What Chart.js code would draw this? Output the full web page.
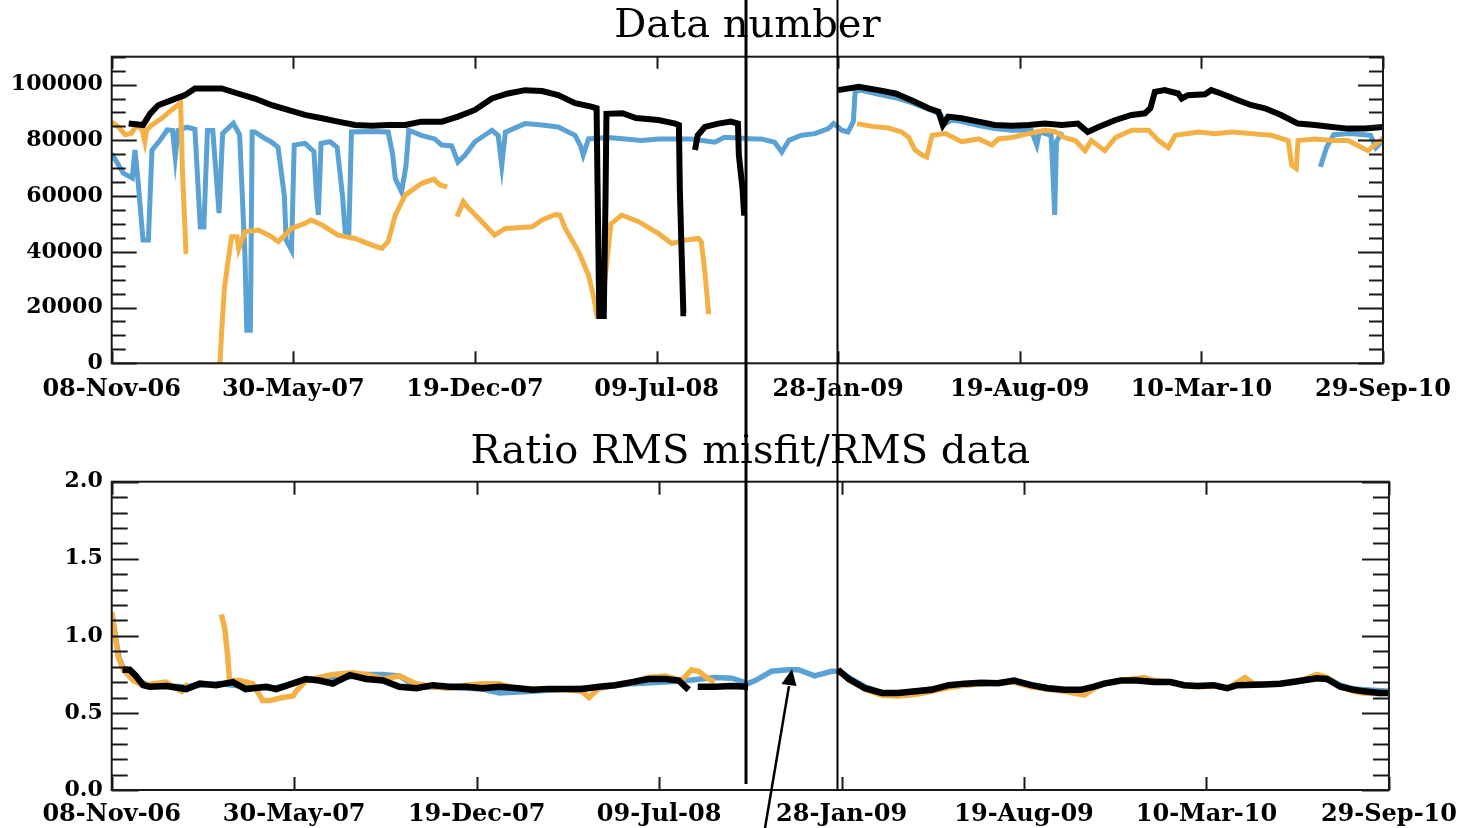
<!DOCTYPE html>
<html>
<head>
<meta charset="utf-8">
<title>Data number / Ratio RMS misfit</title>
<style>
body{margin:0;background:#fff;}
#wrap{position:relative;width:1467px;height:828px;overflow:hidden;}
canvas{position:absolute;left:0;}
#top{top:0;}
#bot{top:420px;}
svg{position:absolute;left:0;top:0;pointer-events:none;}
</style>
</head>
<body>
<div id="wrap">
<canvas id="top" width="1467" height="420"></canvas>
<canvas id="bot" width="1467" height="408"></canvas>
<svg width="1467" height="828">
  <line x1="746" y1="0" x2="746" y2="784" stroke="#000" stroke-width="3"/>
  <line x1="837.5" y1="0" x2="837.5" y2="791" stroke="#000" stroke-width="2"/>
  <line x1="765" y1="828" x2="789" y2="686" stroke="#000" stroke-width="2.5"/>
  <polygon points="792,669 781.5,684 796.5,686" fill="#000"/>
</svg>
</div>
<script src="https://cdn.jsdelivr.net/npm/chart.js"></script>
<script>
// x axis: days since 08-Nov-06, one tick every 203 days
const dateLabels = ['08-Nov-06','30-May-07','19-Dec-07','09-Jul-08','28-Jan-09','19-Aug-09','10-Mar-10','29-Sep-10'];

// ---- top panel: data number (null = gap)
const blueTopDays = [0,13,23,26,29,35,41,45,54,62,68,71,74,84,93,99,103,107,113,120,124,136,143,149,151,155,157,160,171,178,186,193,195,201,204,216,226,229,231,234,244,252,258,261,265,268,291,309,314,317,324,329,332,346,361,369,380,387,395,406,425,432,436,440,462,481,499,518,524,527,533,555,574,592,611,648,674,685,719,726,741,749,757,771,786,801,807,816,823,829,831,837,857,876,894,913,926,932,939,950,969,987,1006,1028,1034,1037,1050,1052,1054,1056,1062,1200,1351,1358,1366,1384,1407,1413,1418,1421];
const blueTopVals = [75300,68200,66500,76500,67000,44200,44200,76500,80000,83700,83500,74000,83500,84700,84000,48900,48900,83500,83500,53900,82500,86100,82000,38100,11900,11900,83000,83000,80700,79500,77500,60000,44200,40600,78300,78900,76000,60000,53200,78900,79500,77500,60000,47200,46000,83000,83200,83000,75000,66300,61500,71000,83600,81800,80500,78300,78000,72200,74700,79500,83600,81700,71000,82900,86000,85500,84800,81800,78000,74700,80500,81000,80500,79900,80500,80500,79300,81100,80500,80500,79300,75800,80000,81800,82400,84200,86000,83600,83000,86700,97400,98000,96500,95300,93500,91200,89500,86000,87300,86700,85300,84200,83600,83600,78300,83000,81800,68800,53200,79500,83000,null,70500,77500,82000,82400,81800,77400,79000,80000];

const orangeTopDays = [0,7,15,22,28,34,37,39,45,56,67,72,77,79,81,83,85,100,121,123,126,130,134,140,142,149,164,179,186,201,216,223,235,253,272,291,302,309,317,328,346,360,367,375,380,386,393,399,410,428,440,470,481,496,501,507,522,533,539,542,548,553,558,570,589,611,626,641,656,659,663,667,670,750,833,850,868,883,891,898,906,911,917,932,950,969,984,991,1006,1025,1043,1054,1065,1077,1088,1095,1110,1122,1140,1159,1170,1181,1189,1215,1233,1252,1274,1296,1315,1319,1324,1326,1345,1364,1382,1404,1418,1421];
const orangeTopVals = [86500,85000,82000,82500,85500,83700,79500,83700,85500,87900,90900,92100,93300,70000,55000,40000,40000,null,0,12000,27000,36500,45400,45400,41000,47200,47800,45400,43600,48400,50200,51400,49600,46000,44800,42400,41200,43600,53200,60300,64500,66100,64000,63300,null,52600,58000,55600,52000,46000,48400,49000,51400,53400,53200,48400,40000,31600,23300,17900,20000,35000,50000,53200,50800,46600,43000,44200,44800,43600,32800,18500,18500,null,86000,85000,84400,83000,81000,76500,74700,74000,81800,82400,79500,80500,78300,80500,81000,82400,83600,83200,81000,79900,76300,79900,76300,81000,83600,83600,79900,77400,81800,83000,82400,83000,82400,81800,79900,71000,69900,79900,80500,79900,79900,76300,79900,81000];

const blackTopDays = [19,35,43,52,67,82,93,123,141,160,179,197,216,235,253,272,291,309,328,346,369,387,406,425,443,462,481,499,518,536,542,543,545,550,552,553,571,586,611,630,634,635,637,639,642,647,652,655,663,678,692,700,701,705,707,760,812,835,857,876,894,913,924,929,935,950,969,987,1006,1025,1043,1062,1080,1091,1103,1122,1140,1155,1161,1166,1177,1192,1196,1203,1222,1229,1240,1259,1274,1289,1307,1326,1345,1364,1382,1401,1421];
const blackTopVals = [86000,85500,89600,92600,94400,96200,98600,98600,96800,95000,92600,90900,89100,87900,86700,85500,85200,85500,85500,86700,86700,88500,90900,95000,96800,98000,97700,96200,93300,92100,91500,65000,17000,17000,60000,89500,89700,88000,87300,86000,85500,63000,40000,18000,18000,null,76500,81800,84800,86000,86700,86000,74700,63000,53000,null,98000,99200,98000,96800,94400,91500,90300,85500,88500,87900,86700,85500,85200,85500,86000,85500,86000,83000,84800,87300,89100,89700,91500,97400,98000,96800,95000,96200,96500,98000,96800,94400,92600,91500,89100,86000,85500,84800,84200,84200,84800];

// ---- bottom panel: ratio RMS misfit / RMS data
const blueBotDays = [0,4,8,13,20,30,40,80,120,150,180,216,250,283,300,320,339,376,413,431,468,505,542,579,616,640,671,690,708,716,734,753,764,782,801,808,820,838,857,875,894,931,968,1004,1041,1062,1200,1351,1367,1382,1421];
const blueBotVals = [1.15,1.0,0.86,0.79,0.76,0.71,0.68,0.67,0.69,0.67,0.66,0.71,0.72,0.75,0.75,0.74,0.67,0.665,0.655,0.63,0.64,0.655,0.665,0.69,0.70,0.71,0.73,0.725,0.69,0.71,0.77,0.78,0.78,0.74,0.77,0.77,0.73,0.67,0.63,0.625,0.64,0.675,0.69,0.70,0.665,0.65,null,0.73,0.68,0.655,0.64];

const orangeBotDays = [0,4,7,13,24,35,60,78,85,100,122,126,129,131,142,157,168,176,190,202,205,216,231,246,268,283,302,320,339,357,376,394,413,431,449,468,505,523,531,542,579,597,616,634,645,653,664,671,750,835,857,875,894,912,931,949,968,986,1004,1023,1041,1060,1082,1093,1104,1123,1149,1160,1178,1193,1208,1226,1241,1261,1270,1282,1300,1319,1341,1352,1367,1382,1393,1411,1421];
const orangeBotVals = [1.15,1.0,0.87,0.78,0.71,0.68,0.70,0.64,0.69,null,1.14,1.04,0.87,0.71,0.71,0.69,0.58,0.58,0.60,0.61,0.64,0.71,0.73,0.75,0.76,0.75,0.72,0.74,0.69,0.67,0.66,0.68,0.69,0.69,0.66,0.655,0.65,0.64,0.60,0.66,0.70,0.73,0.74,0.71,0.78,0.77,0.72,0.70,null,0.66,0.615,0.61,0.62,0.64,0.665,0.68,0.69,0.695,0.70,0.67,0.655,0.64,0.615,0.66,0.69,0.71,0.73,0.71,0.70,0.68,0.67,0.675,0.66,0.73,0.69,0.685,0.69,0.70,0.75,0.73,0.67,0.64,0.63,0.625,0.64];

const blackBotDays = [12,20,27,35,42,61,83,98,116,135,149,172,183,201,216,231,246,265,283,302,320,339,357,376,394,413,431,449,468,486,523,542,560,579,597,616,631,638,642,647,652,671,690,708,760,808,820,838,857,875,894,912,931,949,968,986,1004,1023,1041,1060,1078,1093,1104,1123,1141,1160,1178,1193,1208,1226,1241,1252,1282,1300,1319,1341,1352,1367,1382,1393,1411,1421];
const blackBotVals = [0.78,0.78,0.74,0.68,0.67,0.675,0.655,0.69,0.68,0.70,0.655,0.67,0.655,0.69,0.72,0.71,0.69,0.745,0.72,0.71,0.67,0.66,0.68,0.67,0.67,0.66,0.67,0.662,0.65,0.656,0.656,0.67,0.68,0.70,0.72,0.72,0.71,0.67,0.65,null,0.67,0.67,0.675,0.67,null,0.78,0.72,0.66,0.63,0.63,0.64,0.65,0.68,0.69,0.695,0.693,0.71,0.68,0.66,0.65,0.65,0.67,0.69,0.71,0.71,0.70,0.70,0.68,0.675,0.68,0.66,0.68,0.685,0.69,0.705,0.725,0.72,0.67,0.65,0.64,0.63,0.63];

const pts = (d, v) => d.map((x, i) => ({x: x, y: v[i]}));
const FONT = "'DejaVu Serif', serif";

// frame + inward ticks on all four sides
const frame = {
  id: 'frame',
  afterDatasetsDraw(chart, args, o){
    const {ctx, chartArea: a, scales: {x, y}} = chart;
    ctx.save();
    ctx.strokeStyle = '#1a1a1a';
    ctx.lineWidth = 2;
    ctx.beginPath();
    y.ticks.forEach(t => {
      const py = Math.round(y.getPixelForValue(t.value)) + 0.5;
      const len = t.label ? o.major : o.minor;
      ctx.moveTo(a.left, py); ctx.lineTo(a.left + len, py);
      ctx.moveTo(a.right, py); ctx.lineTo(a.right - len, py);
    });
    x.ticks.forEach(t => {
      const px = Math.round(x.getPixelForValue(t.value)) + 0.5;
      ctx.moveTo(px, a.bottom); ctx.lineTo(px, a.bottom - o.xlen);
      ctx.moveTo(px, a.top); ctx.lineTo(px, a.top + o.xlen);
    });
    ctx.stroke();
    ctx.strokeRect(a.left, a.top, a.right - a.left, a.bottom - a.top);
    ctx.restore();
  }
};

function series(label, d, v, color, w){
  return {label, data: pts(d, v), borderColor: color, backgroundColor: color,
    borderWidth: w, pointRadius: 0, tension: 0, spanGaps: false};
}

function makeChart(id, cfg){
  return new Chart(document.getElementById(id), {
    type: 'line',
    data: {datasets: cfg.sets},
    plugins: [frame],
    options: {
      responsive: false,
      animation: false,
      events: [],
      layout: {padding: {left: 0, right: cfg.right, top: 0, bottom: 0}},
      plugins: {
        legend: {display: false},
        tooltip: {enabled: false},
        title: {display: true, text: cfg.title, fullSize: false, color: '#000',
          font: {family: FONT, size: 40, weight: 'normal', lineHeight: 1.2},
          padding: cfg.titlePad},
        frame: cfg.ticks
      },
      scales: {
        x: {
          type: 'linear', min: 0, max: 1421,
          grid: {display: false, drawTicks: false}, border: {display: false},
          afterFit: s => { s.height = cfg.xh; },
          ticks: {stepSize: 203, autoSkip: false, maxRotation: 0, padding: cfg.xpad, color: '#000',
            font: {family: FONT, size: 24, weight: 'bold'},
            callback: (v, i) => dateLabels[i]}
        },
        y: {
          min: cfg.ymin, max: cfg.ymax,
          grid: {display: false, drawTicks: false}, border: {display: false},
          afterFit: s => { s.width = 111.7; },
          ticks: {stepSize: cfg.step, autoSkip: false, padding: 9, color: '#000',
            font: {family: FONT, size: 22, weight: 'bold'},
            callback: cfg.ylab}
        }
      }
    }
  });
}

makeChart('top', {
  title: 'Data number', right: 84, xh: 56.7, xpad: 12,
  titlePad: {top: 3, bottom: 5.7},
  ymin: 0, ymax: 110000, step: 5000,
  ylab: v => (v % 20000 === 0 && v <= 100000) ? String(v) : '',
  ticks: {major: 25, minor: 14, xlen: 12},
  sets: [
    series('black', blackTopDays, blackTopVals, '#000000', 6),
    series('orange', orangeTopDays, orangeTopVals, '#f2b045', 5),
    series('blue', blueTopDays, blueTopVals, '#5aa2d4', 5)
  ]
});

makeChart('bot', {
  title: 'Ratio RMS misfit/RMS data', right: 75.3, xh: 38, xpad: 10,
  titlePad: {top: 9, bottom: 4.7},
  ymin: 0, ymax: 2, step: 0.1,
  ylab: v => Math.abs(v * 2 - Math.round(v * 2)) < 1e-6 ? v.toFixed(1) : '',
  ticks: {major: 27, minor: 16, xlen: 13},
  sets: [
    series('black', blackBotDays, blackBotVals, '#000000', 6.5),
    series('orange', orangeBotDays, orangeBotVals, '#f2b045', 5.5),
    series('blue', blueBotDays, blueBotVals, '#5aa2d4', 5.5)
  ]
});
</script>
</body>
</html>
